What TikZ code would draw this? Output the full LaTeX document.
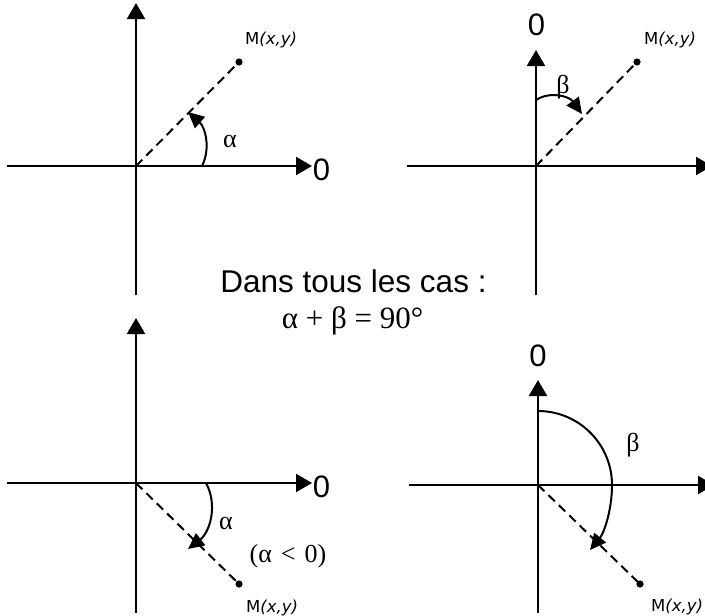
\documentclass[tikz,border=0pt]{standalone}
\usepackage{fontspec}
\setmainfont{Liberation Sans}
\newfontfamily\mfont{DejaVu Sans}
\newfontfamily\gfont{Liberation Serif}
\usetikzlibrary{arrows.meta}
\tikzset{
  axis/.style={line width=2.3pt, -{Triangle[length=16pt,width=18pt]}},
  plainaxis/.style={line width=2.3pt},
  rot/.style={line width=2pt, -{Triangle[length=16pt,width=15pt]}},
  dashline/.style={line width=2pt, dash pattern=on 9pt off 5.5pt},
  pt/.style={fill=black},
  zero/.style={inner sep=0pt, anchor=base, font=\fontsize{31}{31}\selectfont},
  mlab/.style={inner sep=0pt, anchor=base west, font=\mfont\fontsize{16.5}{16.5}\selectfont},
  greek/.style={inner sep=0pt, font=\gfont\fontsize{26}{26}\selectfont},
}
\begin{document}
\begin{tikzpicture}[x=1pt,y=-1pt]
\useasboundingbox (0,0) rectangle (705,616);
\clip (0,0) rectangle (705,616);
% ---------- top-left ----------
\coordinate (o1) at (136,166);
\coordinate (m1) at (239,62);
\coordinate (l1) at (7,166);
\coordinate (r1) at (312,166);
\coordinate (t1) at (136,3);
\coordinate (b1) at (136,295);
\draw[plainaxis] (l1) -- (o1);
\draw[axis] (o1) -- (r1);
\draw[axis] (b1) -- (t1);
\draw[dashline] (o1) -- (m1);
\fill[pt] (m1) circle (3.6);
\node[zero] (z1) at (321.5,180) {0};
\node[mlab] (lm1) at (245,44) {M\textit{(x,y)}};
\coordinate (a1s) at (202,166);
\coordinate (a1e) at (188,112);
\draw[rot] (a1s) .. controls (211,148) and (205,127) .. (a1e);
\node[greek] (g1) at (230,141) {α};
% ---------- top-right ----------
\coordinate (o2) at (536,166);
\coordinate (m2) at (637,62);
\coordinate (l2) at (407,166);
\coordinate (r2) at (712,166);
\coordinate (t2) at (536,50);
\coordinate (b2) at (536,295);
\draw[axis] (l2) -- (r2);
\draw[axis] (b2) -- (t2);
\draw[dashline] (o2) -- (m2);
\fill[pt] (m2) circle (3.6);
\node[zero] (z2) at (536.5,35) {0};
\node[mlab] (lm2) at (644,44) {M\textit{(x,y)}};
\coordinate (a2s) at (536,100);
\coordinate (a2e) at (582,114);
\draw[rot] (a2s) .. controls (550,91) and (569,96) .. (a2e);
\node[greek] (g2) at (563,87) {β};
% ---------- centre text ----------
\node[inner sep=0pt, anchor=base, font=\fontsize{31.5}{31.5}\selectfont] (txt) at (353.5,292) {Dans tous les cas :};
\node[inner sep=0pt, anchor=base, font=\gfont\fontsize{31}{31}\selectfont] (eq) at (352.5,328) {α + β = 90°};
% ---------- bottom-left ----------
\coordinate (o3) at (136,483);
\coordinate (m3) at (239,584);
\coordinate (l3) at (7,483);
\coordinate (r3) at (312,483);
\coordinate (t3) at (136,318);
\coordinate (b3) at (136,613);
\draw[plainaxis] (l3) -- (o3);
\draw[axis] (o3) -- (r3);
\draw[axis] (b3) -- (t3);
\draw[dashline] (o3) -- (m3);
\fill[pt] (m3) circle (3.6);
\node[zero] (z3) at (321.5,497) {0};
\node[mlab] (lm3) at (246,612) {M\textit{(x,y)}};
\coordinate (a3s) at (206,483);
\coordinate (a3e) at (188,549);
\draw[rot] (a3s) .. controls (218,505) and (210,532) .. (a3e);
\node[greek] (g3) at (226,523) {α};
\node[greek] (neg) at (288,556) {(α\hspace{0.35em}<\hspace{0.35em}0)};
% ---------- bottom-right ----------
\coordinate (o4) at (538,485);
\coordinate (m4) at (640,584);
\coordinate (l4) at (409,485);
\coordinate (r4) at (714,485);
\coordinate (t4) at (538,380);
\coordinate (b4) at (538,613);
\draw[axis] (l4) -- (r4);
\draw[axis] (b4) -- (t4);
\draw[dashline] (o4) -- (m4);
\fill[pt] (m4) circle (3.6);
\node[zero] (z4) at (538,366) {0};
\node[mlab] (lm4) at (651,611) {M\textit{(x,y)}};
\coordinate (a4s) at (538,411);
\coordinate (a4e) at (590,550);
\draw[rot] (a4s) arc[start angle=-90, end angle=0, radius=74] .. controls (612,510) and (604,533) .. (a4e);
\node[greek] (g4) at (633,445) {β};
\end{tikzpicture}
\end{document}
